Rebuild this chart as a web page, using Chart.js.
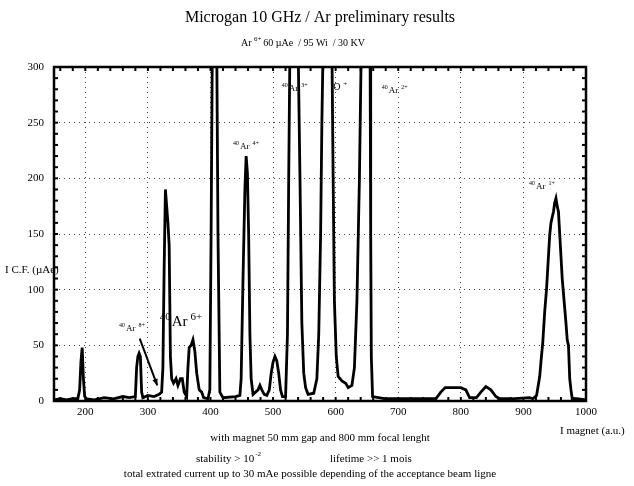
<!DOCTYPE html>
<html>
<head>
<meta charset="utf-8">
<script src="https://cdn.jsdelivr.net/npm/chart.js@4/dist/chart.umd.min.js"></script>
<style>
	body { margin: 0; background: #fff; }
	canvas { display: block; }
</style>
</head>
<body>
<canvas id="cntx_spectrum" width="634" height="486"></canvas>
<script>
// magnet current (a.u.) and collected current I C.F. (uAe), read off the scan
// values above 300 are off-scale peaks, they get clipped by the axis
const magnet = [
	150, 160, 170, 180, 188, 191, 193, 195, 197, 199, 202, 215, 230, 245, 260, 270, 280,
	282, 284, 286, 288, 290, 292, 300, 310, 318, 322, 324, 326, 328, 330, 332, 334, 336,
	338, 341, 345, 348, 352, 355, 358, 362, 364, 366, 369, 372, 375, 378, 382, 386, 389,
	396, 399, 401, 403, 410, 412, 415, 420, 440, 447, 449, 452, 455, 457, 459, 461, 463,
	465, 468, 472, 476, 479, 482, 486, 490, 494, 497, 500, 503, 506, 509, 512, 515, 520,
	523, 525, 527, 540, 543, 546, 549, 552, 556, 565, 570, 573, 576, 578, 580, 594, 596,
	598, 601, 604, 610, 616, 620, 626, 630, 634, 638, 641, 655, 656, 657, 659, 680, 720,
	760, 768, 775, 800, 808, 814, 825, 832, 840, 848, 856, 862, 880, 910, 915, 921, 924,
	926, 928, 931, 934, 937, 940, 942, 944, 946, 948, 950, 952, 954, 956, 958, 960, 962,
	965, 968, 970, 972, 974, 976, 978, 985, 1000,
];
const icf = [
	1, 2, 1, 2, 2, 10, 35, 48, 20, 4, 2, 1, 3, 2, 4, 3, 4,
	30, 40, 43, 40, 8, 3, 5, 4, 6, 8, 30, 120, 190, 175, 160, 140, 40,
	20, 16, 20, 14, 20, 20, 8, 4, 30, 48, 50, 55, 45, 25, 10, 8, 3,
	2, 10, 150, 320, 320, 150, 8, 3, 4, 5, 20, 110, 190, 220, 205, 150, 60,
	20, 6, 8, 10, 14, 10, 6, 5, 10, 25, 35, 40, 36, 25, 10, 4, 4,
	60, 200, 320, 320, 200, 70, 25, 12, 6, 7, 20, 60, 150, 250, 320, 320, 200,
	90, 40, 22, 18, 16, 12, 14, 30, 90, 200, 320, 320, 150, 40, 4, 2, 2,
	2, 8, 12, 12, 10, 3, 3, 8, 13, 10, 4, 2, 2, 3, 2, 5, 15,
	22, 35, 53, 80, 101, 130, 149, 160, 165, 170, 178, 182, 175, 170, 150, 130, 110,
	90, 70, 55, 50, 20, 10, 2, 2, 1,
];
const x_ticks = [200, 300, 400, 500, 600, 700, 800, 900, 1000];
const y_ticks = [0, 50, 100, 150, 200, 250, 300];

// ion labels: superscript mass, symbol, charge state, anchor in data units
const ion_labels = [
	{ mass: "40", name: "Ar", charge: "8+", at: [265, 63], size: 9 },
	{ mass: "40", name: "Ar", charge: "6+", at: [338, 67], size: 15 },
	{ mass: "40", name: "Ar", charge: "4+", at: [447, 226], size: 9 },
	{ mass: "40", name: "Ar", charge: "3+", at: [525, 278], size: 9 },
	{ mass: "", name: "O", charge: "+", at: [596, 279], size: 10 },
	{ mass: "40", name: "Ar", charge: "2+", at: [685, 277], size: 9 },
	{ mass: "40", name: "Ar", charge: "1+", at: [920, 190], size: 9 },
];
const arrow_from = [287, 56];
const arrow_to = [315, 14];

const serif = "'Liberation Serif', 'DejaVu Serif', serif";

const textPlugin = {
	id: "frameAndText",
	afterDraw: (chart) => {
		const ctx = chart.ctx;
		const a = chart.chartArea;
		const x = chart.scales.x;
		const y = chart.scales.y;
		const line = (x1, y1, x2, y2) => {
			ctx.beginPath();
			ctx.moveTo(x1, y1);
			ctx.lineTo(x2, y2);
			ctx.stroke();
		};
		ctx.save();
		ctx.strokeStyle = "#000";
		ctx.fillStyle = "#000";

		// frame with small inward ticks
		ctx.lineWidth = 2.5;
		ctx.strokeRect(a.left, a.top, a.right - a.left, a.bottom - a.top);
		ctx.lineWidth = 2;
		for (let v = 160; v < 1000; v += 20) {
			const px = x.getPixelForValue(v);
			line(px, a.bottom, px, a.bottom - 4);
			line(px, a.top, px, a.top + 4);
		}
		for (let v = 10; v < 300; v += 10) {
			const py = y.getPixelForValue(v);
			line(a.left, py, a.left + 4, py);
			line(a.right, py, a.right - 4, py);
		}

		// titles
		ctx.textBaseline = "alphabetic";
		ctx.textAlign = "center";
		ctx.font = "16px " + serif;
		ctx.fillText("Microgan 10 GHz / Ar preliminary results", 320, 22);

		ctx.textAlign = "left";
		let cx = 241;
		ctx.font = "10px " + serif;
		ctx.fillText("Ar", cx, 46);
		cx += ctx.measureText("Ar ").width;
		ctx.font = "7px " + serif;
		ctx.fillText("6+", cx, 41);
		cx += ctx.measureText("6+ ").width;
		ctx.font = "10px " + serif;
		ctx.fillText("60 \u00b5Ae  / 95 Wi  / 30 KV", cx, 46);

		// axis titles
		ctx.font = "11px " + serif;
		ctx.fillText("I C.F. (\u00b5Ae)", 5, 273);
		ctx.fillText("I magnet (a.u.)", 560, 434);

		// notes under the plot
		ctx.textAlign = "center";
		ctx.fillText("with magnet 50 mm gap and 800 mm focal lenght", 320, 441);
		ctx.fillText("total extrated current up to 30 mAe possible depending of the acceptance beam ligne", 310, 477);
		ctx.textAlign = "left";
		ctx.fillText("stability > 10", 196, 462);
		const sw = ctx.measureText("stability > 10").width;
		ctx.font = "7px " + serif;
		ctx.fillText("-2", 196 + sw + 1, 456);
		ctx.font = "11px " + serif;
		ctx.fillText("lifetime >> 1 mois", 330, 462);

		// ion labels
		ion_labels.forEach((l) => {
			const px = x.getPixelForValue(l.at[0]);
			const py = y.getPixelForValue(l.at[1]);
			const small = Math.round(l.size * 0.7) + "px " + serif;
			ctx.font = small;
			const mw = ctx.measureText(l.mass).width;
			ctx.fillText(l.mass, px - mw - 1, py - l.size * 0.45);
			ctx.font = l.size + "px " + serif;
			const nw = ctx.measureText(l.name).width;
			ctx.fillText(l.name, px, py);
			ctx.font = small;
			ctx.fillText(l.charge, px + nw + 3, py - l.size * 0.45);
		});

		// arrow to the Ar 8+ peak
		const ax1 = x.getPixelForValue(arrow_from[0]);
		const ay1 = y.getPixelForValue(arrow_from[1]);
		const ax2 = x.getPixelForValue(arrow_to[0]);
		const ay2 = y.getPixelForValue(arrow_to[1]);
		ctx.lineWidth = 2;
		line(ax1, ay1, ax2, ay2);
		const ang = Math.atan2(ay2 - ay1, ax2 - ax1);
		ctx.beginPath();
		ctx.moveTo(ax2, ay2);
		ctx.lineTo(ax2 - 7 * Math.cos(ang - 0.4), ay2 - 7 * Math.sin(ang - 0.4));
		ctx.lineTo(ax2 - 7 * Math.cos(ang + 0.4), ay2 - 7 * Math.sin(ang + 0.4));
		ctx.closePath();
		ctx.fill();

		ctx.restore();
	},
};

drawChart = (canvas) => {
	const points = magnet.map((m, i) => ({ x: m, y: icf[i] }));
	const myChart = new Chart(canvas, {
		type: "line",
		data: {
			datasets: [
				{
					data: points,
					borderColor: "#000",
					borderWidth: 2.8,
					pointRadius: 0,
					tension: 0,
					fill: false,
				},
			],
		},
		options: {
			responsive: false,
			animation: false,
			layout: { padding: { top: 67, right: 48, left: 0, bottom: 0 } },
			plugins: {
				legend: { display: false },
				tooltip: { enabled: false },
			},
			scales: {
				x: {
					type: "linear",
					min: 150,
					max: 1000,
					afterBuildTicks: (s) => {
						s.ticks = x_ticks.map((v) => ({ value: v }));
					},
					afterFit: (s) => {
						s.height = 85;
					},
					ticks: {
						color: "#000",
						padding: 5,
						font: { family: serif, size: 11 },
						callback: (v) => String(v),
					},
					grid: { color: "#444", lineWidth: 1, drawTicks: false },
					border: { display: false, dash: [1, 4] },
				},
				y: {
					min: 0,
					max: 300,
					afterBuildTicks: (s) => {
						s.ticks = y_ticks.map((v) => ({ value: v }));
					},
					afterFit: (s) => {
						s.width = 54;
					},
					ticks: {
						color: "#000",
						padding: 10,
						font: { family: serif, size: 11 },
						callback: (v) => String(v),
					},
					grid: { color: "#444", lineWidth: 1, drawTicks: false },
					border: { display: false, dash: [1, 4] },
				},
			},
		},
		plugins: [textPlugin],
	});
};

drawChart(document.querySelector("#cntx_spectrum"));
</script>
</body>
</html>
